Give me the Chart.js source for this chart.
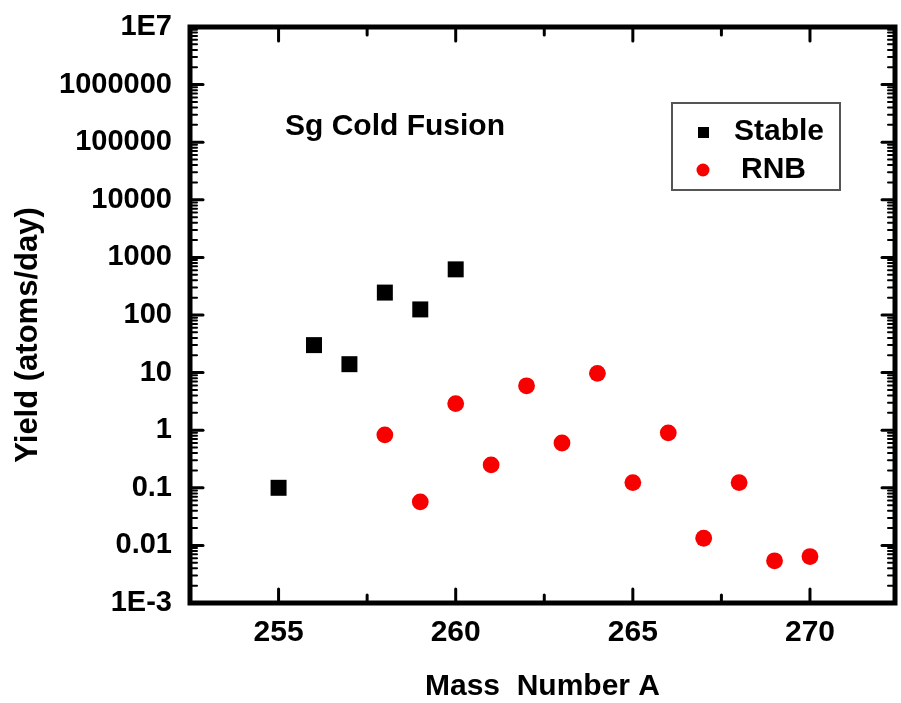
<!DOCTYPE html>
<html><head><meta charset="utf-8">
<script src="https://cdn.jsdelivr.net/npm/chart.js@4.4.1/dist/chart.umd.min.js"></script>
<style>html,body{margin:0;padding:0;background:#fff}#wrap{width:901px;height:703px}</style>
</head><body><div id="wrap"><canvas id="c" width="901" height="703"></canvas></div>
<script>
const stableMass = [255, 256, 257, 258, 259, 260];
const stableYield = [0.1, 30, 14, 245, 125, 620];
const rnbMass = [258, 259, 260, 261, 262, 263, 264, 265, 266, 267, 268, 269, 270];
const rnbYield = [0.83, 0.057, 2.9, 0.25, 5.9, 0.6, 9.7, 0.123, 0.9, 0.0133, 0.123, 0.0054, 0.0064];
const xTicks = [255, 260, 265, 270];
const xMinorTicks = [257.5, 262.5, 267.5];
const yTicks = [1e-3, 1e-2, 1e-1, 1, 10, 100, 1000, 1e4, 1e5, 1e6, 1e7];
const yTickLabels = ["1E-3", "0.01", "0.1", "1", "10", "100", "1000", "10000", "100000", "1000000", "1E7"];
const seriesNames = ["Stable", "RNB"];
const chartTitle = "Sg Cold Fusion";
const xTitle = "Mass  Number A";
const yTitle = "Yield (atoms/day)";

const FONT = "'Liberation Sans', Arial, sans-serif";
const RED = 'rgb(246,0,0)';

const framePlugin = {
  id: 'frame',
  afterDraw(chart) {
    const ctx = chart.ctx;
    const {left, right, top, bottom} = chart.chartArea;
    const xs = chart.scales.x, ys = chart.scales.y;
    ctx.save();
    ctx.strokeStyle = '#000';
    ctx.lineCap = 'round';
    ctx.lineWidth = 3;
    const drawV = (v, len) => {
      const px = xs.getPixelForValue(v);
      ctx.beginPath(); ctx.moveTo(px, bottom); ctx.lineTo(px, bottom - len); ctx.stroke();
      ctx.beginPath(); ctx.moveTo(px, top); ctx.lineTo(px, top + len); ctx.stroke();
    };
    xTicks.forEach(v => drawV(v, 14));
    xMinorTicks.forEach(v => drawV(v, 8));
    const drawH = (v, len, w) => {
      const py = ys.getPixelForValue(v);
      ctx.lineWidth = w;
      ctx.beginPath(); ctx.moveTo(left, py); ctx.lineTo(left + len, py); ctx.stroke();
      ctx.beginPath(); ctx.moveTo(right, py); ctx.lineTo(right - len, py); ctx.stroke();
    };
    yTicks.forEach(v => drawH(v, 13, 3));
    for (let i = 0; i < yTicks.length - 1; i++) {
      for (let m = 2; m <= 9; m++) drawH(yTicks[i] * m, 7, 2);
    }
    ctx.lineCap = 'butt';
    ctx.lineWidth = 5;
    ctx.strokeRect(left, top, right - left, bottom - top);

    ctx.fillStyle = '#000';
    ctx.font = "bold 30px " + FONT;
    ctx.textAlign = 'left';
    ctx.textBaseline = 'alphabetic';
    ctx.fillText(chartTitle, 285, 135);

    ctx.save();
    ctx.translate(28, 335);
    ctx.rotate(-Math.PI / 2);
    ctx.font = "bold 31px " + FONT;
    ctx.textAlign = 'center';
    ctx.textBaseline = 'middle';
    ctx.fillText(yTitle, 0, 0);
    ctx.restore();

    ctx.lineWidth = 2;
    ctx.strokeStyle = '#555';
    ctx.strokeRect(672, 103, 168, 87);
    const ds = chart.data.datasets;
    ctx.fillStyle = ds[0].backgroundColor;
    ctx.fillRect(698, 127, 11, 11);
    ctx.fillStyle = ds[1].backgroundColor;
    ctx.beginPath(); ctx.arc(703, 170, 6.5, 0, Math.PI * 2); ctx.fill();
    ctx.fillStyle = '#000';
    ctx.font = "bold 30px " + FONT;
    ctx.textAlign = 'left';
    ctx.textBaseline = 'alphabetic';
    ctx.fillText(ds[0].label, 734, 140);
    ctx.fillText(ds[1].label, 741, 178);
    ctx.restore();
  }
};

const zeroPad = s => { s.paddingTop = 0; s.paddingBottom = 0; s.paddingLeft = 0; s.paddingRight = 0; };

new Chart(document.getElementById('c'), {
  type: 'scatter',
  data: {
    datasets: [
      {
        label: seriesNames[0],
        data: stableMass.map((m, i) => ({x: m, y: stableYield[i]})),
        pointStyle: 'rect',
        pointRadius: 11.3,
        pointHoverRadius: 11.3,
        backgroundColor: '#000',
        borderColor: '#000',
        borderWidth: 0
      },
      {
        label: seriesNames[1],
        data: rnbMass.map((m, i) => ({x: m, y: rnbYield[i]})),
        pointStyle: 'circle',
        pointRadius: 8.4,
        pointHoverRadius: 8.4,
        backgroundColor: RED,
        borderColor: RED,
        borderWidth: 0
      }
    ]
  },
  options: {
    responsive: false,
    animation: false,
    devicePixelRatio: 1,
    layout: {autoPadding: false, padding: {left: 0, right: 6, top: 27, bottom: 0}},
    plugins: {legend: {display: false}, tooltip: {enabled: false}},
    scales: {
      x: {
        type: 'linear',
        min: 252.5,
        max: 272.4,
        grid: {display: false, drawTicks: false},
        border: {display: false},
        afterBuildTicks: s => { s.ticks = xTicks.map(v => ({value: v})); },
        afterFit: s => { s.height = 100; zeroPad(s); },
        ticks: {
          color: '#000',
          padding: 15,
          maxRotation: 0,
          font: {family: FONT, size: 30, weight: 'bold', lineHeight: 1},
          callback: v => String(v)
        },
        title: {
          display: true,
          text: xTitle,
          color: '#000',
          padding: {top: 0, bottom: 1},
          font: {family: FONT, size: 30, weight: 'bold', lineHeight: 1}
        }
      },
      y: {
        type: 'logarithmic',
        min: 1e-3,
        max: 1e7,
        grid: {display: false, drawTicks: false},
        border: {display: false},
        afterBuildTicks: s => { s.ticks = yTicks.map(v => ({value: v})); },
        afterFit: s => { s.width = 190; zeroPad(s); },
        ticks: {
          color: '#000',
          padding: 18,
          font: {family: FONT, size: 29, weight: 'bold', lineHeight: 1.2},
          callback: (v, i) => yTickLabels[i]
        }
      }
    }
  },
  plugins: [framePlugin]
});
</script>
</body></html>
